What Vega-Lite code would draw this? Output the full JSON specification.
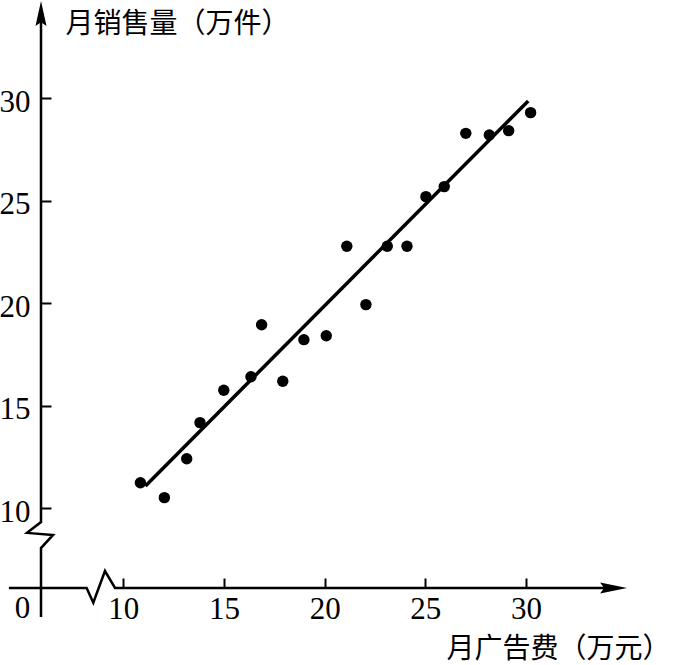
{
  "$schema": "https://vega.github.io/schema/vega-lite/v6.json",
  "width": 584,
  "height": 583,
  "autosize": {"type": "none"},
  "padding": {"left": 41, "top": 5, "right": 49, "bottom": 77},
  "background": "white",
  "config": {"view": {"stroke": null}},
  "datasets": {
    "points": [
      {"ad": 10.85, "sales": 11.25},
      {"ad": 12.04, "sales": 10.52},
      {"ad": 13.15, "sales": 12.42},
      {"ad": 13.81, "sales": 14.18},
      {"ad": 14.99, "sales": 15.76},
      {"ad": 16.34, "sales": 16.42},
      {"ad": 16.87, "sales": 18.96},
      {"ad": 17.92, "sales": 16.2},
      {"ad": 18.97, "sales": 18.23},
      {"ad": 20.08, "sales": 18.42},
      {"ad": 21.1, "sales": 22.79},
      {"ad": 22.05, "sales": 19.94},
      {"ad": 23.11, "sales": 22.79},
      {"ad": 24.09, "sales": 22.79},
      {"ad": 25.03, "sales": 25.21},
      {"ad": 25.94, "sales": 25.7},
      {"ad": 27.01, "sales": 28.3},
      {"ad": 28.18, "sales": 28.22},
      {"ad": 29.14, "sales": 28.43},
      {"ad": 30.23, "sales": 29.31}
    ],
    "fit": [
      {"ad": 11.1, "sales": 11.09},
      {"ad": 30.11, "sales": 29.88}
    ],
    "axisLines": [
      {"axis": "x", "i": 0, "ad": 4.32, "sales": 6.11},
      {"axis": "x", "i": 1, "ad": 8.18, "sales": 6.11},
      {"axis": "x", "i": 2, "ad": 8.51, "sales": 5.39},
      {"axis": "x", "i": 3, "ad": 9.09, "sales": 6.94},
      {"axis": "x", "i": 4, "ad": 9.59, "sales": 6.11},
      {"axis": "x", "i": 5, "ad": 34.2, "sales": 6.11},
      {"axis": "y", "i": 0, "ad": 5.913, "sales": 4.7},
      {"axis": "y", "i": 1, "ad": 5.913, "sales": 8.06},
      {"axis": "y", "i": 2, "ad": 6.51, "sales": 8.7},
      {"axis": "y", "i": 3, "ad": 5.22, "sales": 8.8},
      {"axis": "y", "i": 4, "ad": 5.913, "sales": 9.33},
      {"axis": "y", "i": 5, "ad": 5.913, "sales": 33.9}
    ],
    "marks": [
      {"ad": 34.35, "sales": 6.11}
    ],
    "origin": [
      {"ad": 5.0, "sales": 6.11, "label": "0"}
    ],
    "top": [
      {"ad": 5.913, "sales": 34.15}
    ]
  },
  "encoding": {
    "x": {
      "field": "ad", "type": "quantitative",
      "scale": {"domain": [5.913, 34.917], "nice": false, "zero": false},
      "axis": {
        "values": [10, 15, 20, 25, 30],
        "domain": false, "grid": false, "offset": -10,
        "tickSize": 10, "tickWidth": 2, "tickColor": "black",
        "labelFont": "Liberation Serif", "labelFontSize": 31, "labelColor": "black",
        "labelPadding": 6, "labelFlush": false, "labelOverlap": false,
        "title": "月广告费（万元）",
        "titleFont": "Noto Sans CJK SC", "titleFontSize": 28, "titleFontWeight": "normal", "titleColor": "black",
        "titleX": 405, "titleY": 79, "titleAlign": "left", "titleBaseline": "alphabetic", "titleAngle": 0
      }
    },
    "y": {
      "field": "sales", "type": "quantitative",
      "scale": {"domain": [6.11, 34.563], "nice": false, "zero": false},
      "axis": {
        "values": [10, 15, 20, 25, 30],
        "domain": false, "grid": false, "offset": -10,
        "tickSize": 10, "tickWidth": 2, "tickColor": "black",
        "labelFont": "Liberation Serif", "labelFontSize": 31, "labelColor": "black",
        "labelPadding": 11, "labelOffset": 4, "labelFlush": false, "labelOverlap": false,
        "title": "月销售量（万件）",
        "titleFont": "Noto Sans CJK SC", "titleFontSize": 28, "titleFontWeight": "normal", "titleColor": "black",
        "titleX": 14, "titleY": 27, "titleAlign": "left", "titleBaseline": "alphabetic", "titleAngle": 0
      }
    }
  },
  "layer": [
    {
      "data": {"name": "points"},
      "mark": {"type": "point", "shape": "circle", "filled": true, "size": 130, "color": "black", "opacity": 1}
    },
    {
      "data": {"name": "fit"},
      "mark": {"type": "line", "color": "black", "strokeWidth": 3.5}
    },
    {
      "data": {"name": "axisLines"},
      "mark": {"type": "line", "color": "black", "strokeWidth": 2.5, "strokeJoin": "miter"},
      "encoding": {
        "detail": {"field": "axis"},
        "order": {"field": "i", "type": "quantitative"}
      }
    },
    {
      "data": {"name": "marks"},
      "mark": {"type": "point", "shape": "M1,0L-1,-0.4L-0.7,0L-1,0.4Z", "filled": true, "color": "black", "opacity": 1, "size": 729, "strokeWidth": 0}
    },
    {
      "data": {"name": "top"},
      "mark": {"type": "point", "shape": "M0,-1L0.44,1L0,0.7L-0.44,1Z", "filled": true, "color": "black", "opacity": 1, "size": 625, "strokeWidth": 0}
    },
    {
      "data": {"name": "origin"},
      "mark": {"type": "text", "font": "Liberation Serif", "fontSize": 31, "color": "black", "align": "center", "baseline": "top", "dy": 6},
      "encoding": {
        "text": {"field": "label"}
      }
    }
  ]
}
